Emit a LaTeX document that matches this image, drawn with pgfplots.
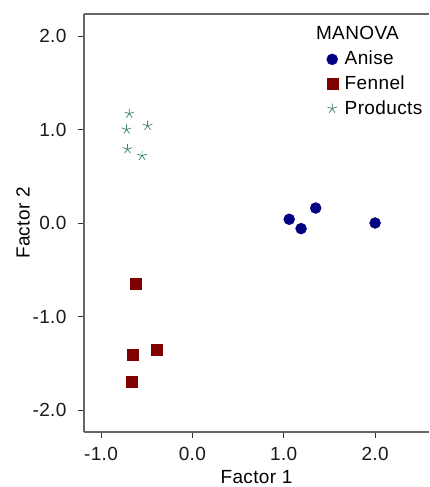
\documentclass[border=0pt]{standalone}
\usepackage{pgfplots}
\pgfplotsset{compat=1.18}
\usepackage{fontspec}
\setmainfont{Liberation Sans}[LetterSpace=2]
\definecolor{anise}{RGB}{0,0,128}
\definecolor{fennel}{RGB}{128,0,0}
\definecolor{prod}{RGB}{60,130,100}
\begin{document}
\fontsize{19}{22}\selectfont
\begin{tikzpicture}
\begin{axis}[
  scale only axis, width=345pt, height=418pt,
  xmin=-1.186, xmax=2.59, ymin=-2.235, ymax=2.235,
  axis x line*=bottom, axis y line*=left,
  axis line style={-, draw=black!60, line width=1.1pt},
  xtick={-1,0,1,2}, ytick={-2,-1,0,1,2},
  tick align=outside, major tick length=6pt,
  tick style={black!80, line width=0.7pt},
  /pgf/number format/assume math mode=true,
  /pgf/number format/fixed, /pgf/number format/fixed zerofill, /pgf/number format/precision=1,
  ticklabel style={font=\fontsize{19}{22}\selectfont, text=black!90},
  yticklabel style={xshift=-5pt},
  xticklabel style={yshift=-3pt},
  xlabel={Factor 1}, ylabel={Factor 2},
  label style={font=\fontsize{19}{22}\selectfont},
  every axis y label/.style={at={(rel axis cs:-0.1768,0.5)}, rotate=90, anchor=center},
  every axis x label/.style={at={(rel axis cs:0.5,-0.1077)}, anchor=center, inner sep=2pt},
  clip=false,
  legend style={at={(rel axis cs:0.70,0.919)}, anchor=north west, draw=none, fill=none,
    font=\fontsize{19}{22}\selectfont, row sep=4pt, column sep=5pt, inner sep=1pt},
  legend cell align=left,
]
\addplot[only marks, mark=*, mark size=5.5pt, color=anise, mark options={fill=anise}] coordinates {
 (1.06,0.04) (1.19,-0.06) (1.35,0.16) (2.0,0.0)};
\addlegendentry{Anise}
\addplot[only marks, mark=square*, mark size=5.5pt, color=fennel, mark options={fill=fennel}] coordinates {
 (-0.62,-0.65) (-0.65,-1.41) (-0.39,-1.36) (-0.66,-1.70)};
\addlegendentry{Fennel}
\addplot[only marks, mark=star, mark size=5pt, color=prod, mark options={line width=0.7pt}] coordinates {
 (-0.69,1.17) (-0.72,1.0) (-0.49,1.04) (-0.71,0.79) (-0.55,0.72)};
\addlegendentry{Products}
\draw[black!60, line width=1.1pt] (rel axis cs:0,1) -- (rel axis cs:1,1);
\node[anchor=west, inner sep=0pt] at (rel axis cs:0.672,0.955) {MANOVA};
\end{axis}
\path (current axis.north) ++(0pt,14pt);
\path (current axis.south west) ++(-84pt,-55pt);
\end{tikzpicture}
\end{document}
